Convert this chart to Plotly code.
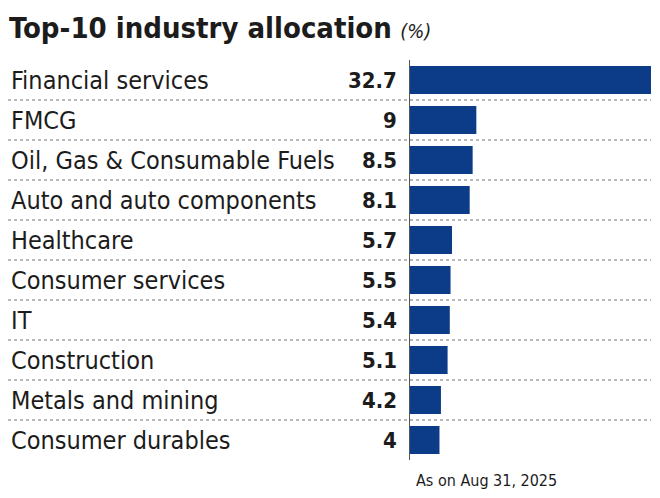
import plotly.graph_objects as go

categories = ["Financial services", "FMCG", "Oil, Gas & Consumable Fuels",
              "Auto and auto components", "Healthcare", "Consumer services",
              "IT", "Construction", "Metals and mining", "Consumer durables"]
values = [32.7, 9, 8.5, 8.1, 5.7, 5.5, 5.4, 5.1, 4.2, 4]
value_labels = ["32.7", "9", "8.5", "8.1", "5.7", "5.5", "5.4", "5.1", "4.2", "4"]

OFF = 8  # page body margin
W, H = 660 - OFF, 498 - OFF
L, R, T, B = 410 - OFF, 9, 60 - OFF, 38
pw = W - L - R

FONT = "DejaVu Sans Condensed"
TXT = "#1c1c1c"
BAR = "#0c3c88"

fig = go.Figure()
fig.add_trace(go.Bar(
    x=values, y=categories, orientation="h",
    marker=dict(color=BAR, line=dict(width=0)),
    hoverinfo="skip",
))

ann = []
for c, v in zip(categories, value_labels):
    ann.append(dict(x=(9 - OFF - L) / pw, xref="paper", y=c, yref="y",
                    text=c, showarrow=False, xanchor="left", yanchor="middle",
                    font=dict(family=FONT, size=25, color=TXT)))
    ann.append(dict(x=0, xref="x", y=c, yref="y", xshift=-11,
                    text="<b>" + v + "</b>", showarrow=False, xanchor="right", yanchor="middle",
                    font=dict(family=FONT, size=22, color=TXT)))
ann.append(dict(x=(414 - OFF - L) / pw, xref="paper", y=-0.05, yref="paper",
                text="As on Aug 31, 2025", showarrow=False, xanchor="left", yanchor="middle",
                font=dict(family=FONT, size=16, color=TXT)))

shapes = []
for k in range(len(categories) - 1):
    shapes.append(dict(type="line", xref="paper", yref="y",
                       x0=(8 - OFF - L) / pw, x1=1, y0=k + 0.5, y1=k + 0.5,
                       line=dict(color="#777777", width=1, dash="dot")))

fig.update_layout(
    width=W, height=H,
    margin=dict(l=L, r=R, t=T, b=B),
    paper_bgcolor="white", plot_bgcolor="white",
    showlegend=False, bargap=0.3,
    title=dict(text="<b>Top-10 industry allocation</b> <i><span style='font-size:20px'>(%)</span></i>",
               x=0, xref="container", xanchor="left",
               y=1 - (28 - OFF) / H, yref="container", yanchor="middle",
               pad=dict(l=1, t=0, b=0, r=0),
               font=dict(family=FONT, size=29, color=TXT)),
    xaxis=dict(range=[0, 32.7], visible=False, fixedrange=True),
    yaxis=dict(autorange="reversed", showticklabels=False, ticks="",
               showgrid=False, zeroline=False, showline=True, linecolor="#555555",
               linewidth=1),
    annotations=ann, shapes=shapes,
)
fig.write_html("out.html")
